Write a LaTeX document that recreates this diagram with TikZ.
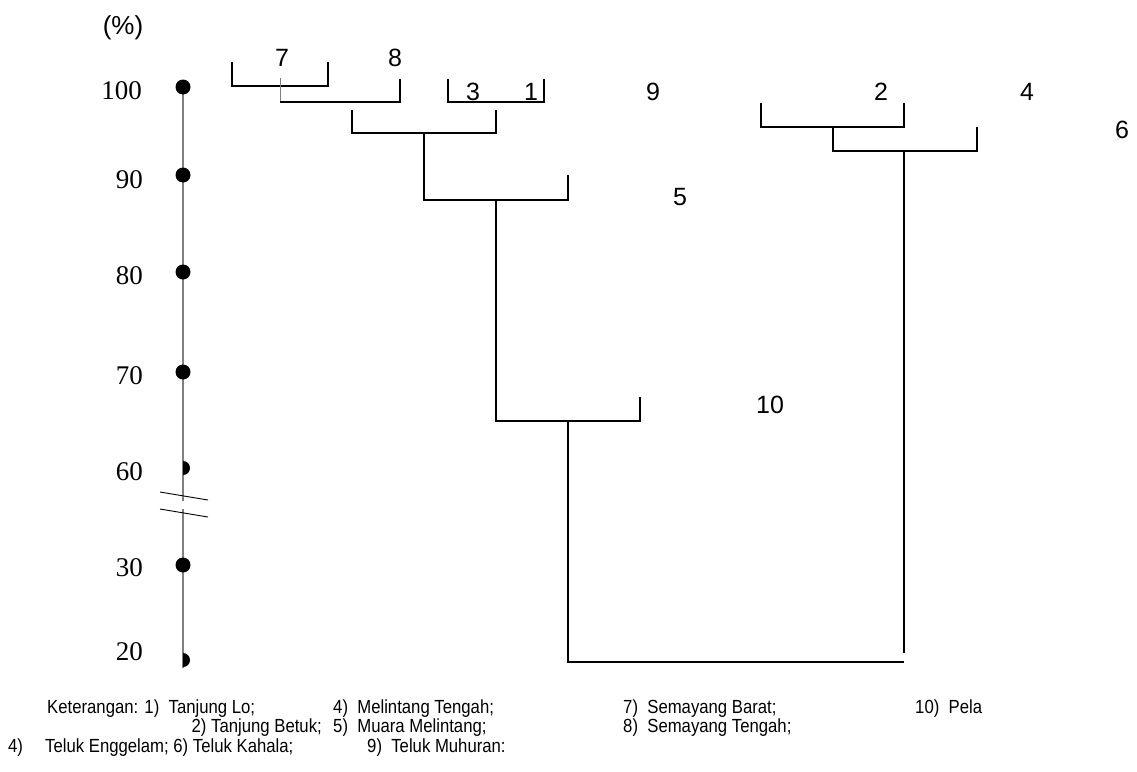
\documentclass[tikz,border=0pt]{standalone}
\usepackage{fontspec}
\setmainfont{Liberation Serif}
\setsansfont{Liberation Sans}
\usepackage{graphicx}
\newcommand{\legtxt}[1]{\scalebox{0.88}[1]{#1}}
\begin{document}
\begin{tikzpicture}[x=1pt,y=-1pt,
  br/.style={line width=2.6pt},
  lab/.style={font=\fontsize{25}{30}\selectfont\sffamily, inner sep=0},
  ticklab/.style={font=\fontsize{27}{32}\selectfont\rmfamily, anchor=east, inner sep=0},
  leg/.style={font=\fontsize{19}{22}\selectfont\sffamily, anchor=west, inner sep=0},
  axisline/.style={draw=gray, line width=1.4pt}]
\useasboundingbox[fill=white] (0,0) rectangle (1137,771);

% axis
\coordinate (ax0) at (183,87);
\coordinate (ax1) at (183,501);
\coordinate (ax2) at (183,509);
\coordinate (ax3) at (183,668);
\draw[axisline] (ax0) -- (ax1) (ax2) -- (ax3);
\draw[line width=0.9pt] (160,492) -- (208,500);
\draw[line width=0.9pt] (160,509) -- (208,517);

\fill (183,87) circle (7.5pt);
\fill (183,175) circle (7.5pt);
\fill (183,272) circle (7.5pt);
\fill (183,372) circle (7.5pt);
\fill (183,461) arc[start angle=90,end angle=-90,radius=7pt] -- cycle;
\fill (183,565) circle (7.5pt);
\fill (183,653) arc[start angle=90,end angle=-90,radius=7pt] -- cycle;

\node[font=\fontsize{26}{30}\selectfont\sffamily, inner sep=0] (pct) at (123,28) {(\%)};
\node[ticklab] (t100) at (142,91) {100};
\node[ticklab] (t90) at (143,180) {90};
\node[ticklab] (t80) at (143,276) {80};
\node[ticklab] (t70) at (143,376) {70};
\node[ticklab] (t60) at (143,472) {60};
\node[ticklab] (t30) at (143,568) {30};
\node[ticklab] (t20) at (143,652) {20};

% dendrogram leaf labels
\node[lab] (l7) at (282,58) {7};
\node[lab] (l8) at (395,58) {8};
\node[lab] (l3) at (473,92) {3};
\node[lab] (l1) at (531,92) {1};
\node[lab] (l9) at (653,92) {9};
\node[lab] (l2) at (881,92) {2};
\node[lab] (l4) at (1027,92) {4};
\node[lab] (l6) at (1122,130) {6};
\node[lab] (l5) at (680,197) {5};
\node[lab] (l10) at (770,405) {10};

% bracket A (7)
\coordinate (a1) at (232,62); \coordinate (a2) at (232,86);
\coordinate (a3) at (328,86); \coordinate (a4) at (328,62);
\draw[br] (a1) -- (a2) -- (a3) -- (a4);
% bracket B (8)
\coordinate (b0) at (280,78); \coordinate (b1) at (280,102);
\coordinate (b2) at (400,102); \coordinate (b3) at (400,79);
\draw[draw=gray, line width=1pt] (b0) -- (b1);
\draw[br] (b1) -- (b2) -- (b3);
% bracket C (3,1)
\coordinate (c1) at (448,79); \coordinate (c2) at (448,102);
\coordinate (c3) at (544,102); \coordinate (c4) at (544,79);
\draw[br] (c1) -- (c2) -- (c3) -- (c4);
% bracket D
\coordinate (d1) at (352,110); \coordinate (d2) at (352,133);
\coordinate (d3) at (496,133); \coordinate (d4) at (496,110);
\draw[br] (d1) -- (d2) -- (d3) -- (d4);
% bracket E (5)
\coordinate (e1) at (424,133); \coordinate (e2) at (424,200);
\coordinate (e3) at (568,200); \coordinate (e4) at (568,175);
\draw[br] (e1) -- (e2) -- (e3) -- (e4);
% bracket F (10)
\coordinate (f1) at (496,200); \coordinate (f2) at (496,421);
\coordinate (f3) at (640,421); \coordinate (f4) at (640,397);
\draw[br] (f1) -- (f2) -- (f3) -- (f4);
% bracket H (9,2)
\coordinate (h1) at (761,103); \coordinate (h2) at (761,127);
\coordinate (h3) at (904,127); \coordinate (h4) at (904,103);
\draw[br] (h1) -- (h2) -- (h3) -- (h4);
% bracket I (4)
\coordinate (i1) at (833,127); \coordinate (i2) at (833,151);
\coordinate (i3) at (977,151); \coordinate (i4) at (977,127);
\draw[br] (i1) -- (i2) -- (i3) -- (i4);
% bracket G (root)
\coordinate (g1) at (568,421); \coordinate (g2) at (568,662);
\coordinate (g3) at (904,662); \coordinate (g4) at (904,653); \coordinate (g5) at (904,151);
\draw[br] (g1) -- (g2) -- (g3);
\draw[br] (g4) -- (g5);

% legend
\node[leg] (k1) at (47,709) {\legtxt{Keterangan: 1)\ \ Tanjung Lo;}};
\node[leg] (k4) at (333,709) {\legtxt{4)\ \ Melintang Tengah;}};
\node[leg] (k7) at (623,709) {\legtxt{7)\ \ Semayang Barat;}};
\node[leg] (k10) at (915,709) {\legtxt{10)\ \ Pela}};
\node[leg, anchor=east] (k2) at (322,728) {\legtxt{2) Tanjung Betuk;}};
\node[leg] (k5) at (333,728) {\legtxt{5)\ \ Muara Melintang;}};
\node[leg] (k8) at (623,728) {\legtxt{8)\ \ Semayang Tengah;}};
\node[leg] (k4b) at (8,748) {\legtxt{4)}};
\node[leg] (k36) at (45,748) {\legtxt{Teluk Enggelam; 6) Teluk Kahala;}};
\node[leg] (k9) at (367,748) {\legtxt{9)\ \ Teluk Muhuran:}};
\end{tikzpicture}
\end{document}
